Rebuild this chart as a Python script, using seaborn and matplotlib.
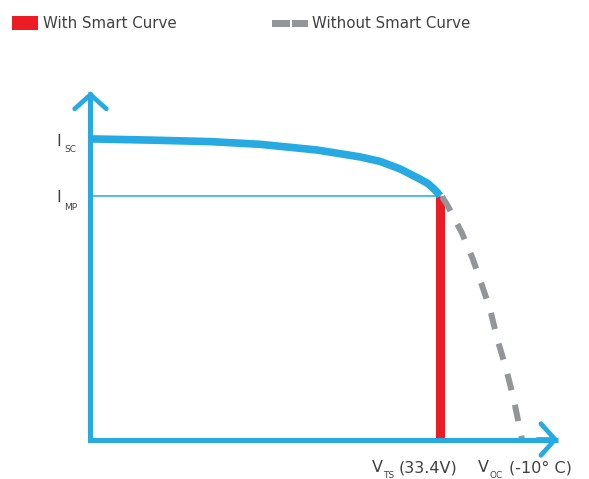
import matplotlib
matplotlib.use("Agg")
import matplotlib.pyplot as plt
import seaborn as sns
import pandas as pd
from matplotlib.patches import Rectangle

# ---- data (voltage in V, current in A) ----
curve_v = [0.0, 5.69, 11.42, 16.20, 21.65, 25.76, 27.67, 29.58, 30.53,
           31.49, 32.25, 32.73, 33.11, 33.4]
curve_i = [10.02, 9.98, 9.93, 9.84, 9.65, 9.42, 9.27, 9.02, 8.85,
           8.68, 8.53, 8.38, 8.25, 8.12]

without_v = [33.6, 34.2, 35.5, 36.5, 37.4, 38.2, 38.9, 39.7, 40.4, 41.24]
without_i = [8.10, 7.75, 6.88, 6.05, 5.15, 4.32, 3.32, 2.38, 1.42, 0.0]

V_TS = 33.4
V_OC = 41.24
I_SC = 10.0
I_MP = 8.12
axis_end_v = 44.7
axis_end_i = 11.6

legend_labels = ["With Smart Curve", "Without Smart Curve"]
x_labels = ["(33.4V)", "(-10° C)"]

BLUE = "#27aae1"
RED = "#ed1c24"
GRAY = "#939598"
TEXT = "#414042"

sns.set_theme(style="white")
plt.rcParams['font.family'] = ['DejaVu Sans']

W, H = 589, 479
fig = plt.figure(figsize=(W / 100, H / 100), dpi=100)
ax = fig.add_axes([0, 0, 1, 1])
ax.set_xlim(-90.5 / 10.464, (W - 90.5) / 10.464)
ax.set_ylim(-39.5 / 30, 439.5 / 30)
ax.axis("off")

# axes (L shape) with open arrow heads
ax.plot([0, 0, axis_end_v], [axis_end_i, 0, 0], color=BLUE, lw=3.6,
        solid_joinstyle="miter", solid_capstyle="butt", zorder=3)
for tip, start in [((0, axis_end_i), (0, axis_end_i - 1)),
                   ((axis_end_v, 0), (axis_end_v - 2, 0))]:
    ax.annotate("", xy=tip, xytext=start,
                arrowprops=dict(arrowstyle="->,head_length=0.85,head_width=0.95",
                                lw=3.4, color=BLUE, shrinkA=0, shrinkB=0,
                                joinstyle="miter"), zorder=3)

# I_MP thin line
ax.plot([0, V_TS], [I_MP, I_MP], color=BLUE, lw=1.1, zorder=2)

# red vertical (with smart curve)
ax.plot([V_TS, V_TS], [0, I_MP], color=RED, lw=6.5, solid_capstyle="butt", zorder=2)

# main I-V curve
df_curve = pd.DataFrame({"V": curve_v, "I": curve_i})
sns.lineplot(data=df_curve, x="V", y="I", sort=False, estimator=None,
             color=BLUE, lw=5.5, ax=ax, zorder=4)
ax.lines[-1].set_solid_capstyle("butt")
ax.lines[-1].set_solid_joinstyle("round")

# without smart curve (dashed)
df_wo = pd.DataFrame({"V": without_v, "I": without_i})
sns.lineplot(data=df_wo, x="V", y="I", sort=False, estimator=None,
             color=GRAY, lw=4.3, ax=ax, zorder=2)
ax.lines[-1].set_dashes((2.8, 2.5))
ax.lines[-1].set_dash_capstyle("butt")
ax.set_xlabel("")
ax.set_ylabel("")


def ptext(x, y, s, size, **kw):
    fig.text(x / W, 1 - y / H, s, fontsize=size, color=TEXT, **kw)


# legend (manual)
fig.patches.append(Rectangle((12 / W, 1 - 30 / H), 26 / W, 14 / H,
                             transform=fig.transFigure, color=RED, lw=0))
fig.patches.append(Rectangle((272 / W, 1 - 27 / H), 18 / W, 7 / H,
                             transform=fig.transFigure, color=GRAY, lw=0))
fig.patches.append(Rectangle((292 / W, 1 - 27 / H), 16 / W, 7 / H,
                             transform=fig.transFigure, color=GRAY, lw=0))
ptext(43, 23, legend_labels[0], 10.8, va="center", ha="left")
ptext(312, 23, legend_labels[1], 10.8, va="center", ha="left")

# y labels
ptext(56, 141, "I", 11.5, va="center", ha="left")
ptext(64, 150, "SC", 6.5, va="center", ha="left")
ptext(56, 198, "I", 11.5, va="center", ha="left")
ptext(64, 207, "MP", 6.5, va="center", ha="left")

# x labels
ptext(372, 468, "V", 11.5, va="center", ha="left")
ptext(383, 476, "TS", 6.5, va="center", ha="left")
ptext(399, 468, x_labels[0], 11.5, va="center", ha="left")
ptext(478, 468, "V", 11.5, va="center", ha="left")
ptext(489, 476, "OC", 6.5, va="center", ha="left")
ptext(509, 468, x_labels[1], 11.5, va="center", ha="left")

fig.savefig("out.png", dpi=100)
